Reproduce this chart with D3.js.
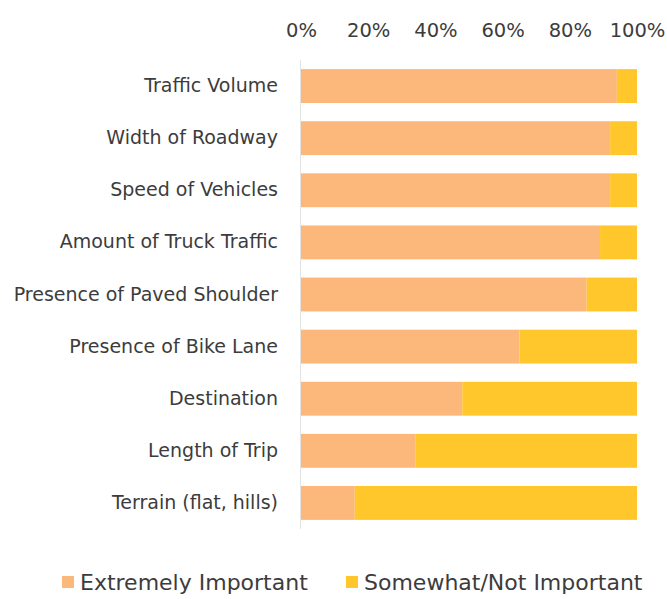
<!DOCTYPE html>
<html>
<head>
<meta charset="utf-8">
<script src="https://cdn.jsdelivr.net/npm/d3@7"></script>
<style>
  html, body { margin: 0; padding: 0; background: #ffffff; }
  svg { display: block; }
  text { font-family: "DejaVu Sans", sans-serif; fill: #3c3c3c; }
</style>
</head>
<body>
<script>
// Factors rated by importance (share of respondents)
const categories = [
  "Traffic Volume",
  "Width of Roadway",
  "Speed of Vehicles",
  "Amount of Truck Traffic",
  "Presence of Paved Shoulder",
  "Presence of Bike Lane",
  "Destination",
  "Length of Trip",
  "Terrain (flat, hills)"
];
const extremelyImportant = [0.94, 0.92, 0.92, 0.89, 0.85, 0.65, 0.48, 0.34, 0.16];
const somewhatNotImportant = extremelyImportant.map(v => 1 - v);
const seriesNames = ["Extremely Important", "Somewhat/Not Important"];
const seriesColors = ["#FCB77B", "#FFC72C"];
const tickValues = [0, 0.2, 0.4, 0.6, 0.8, 1.0];

const W = 667, H = 599;
const svg = d3.select("body").append("svg").attr("width", W).attr("height", H);

const x = d3.scaleLinear().domain([0, 1]).range([301, 637]);
const y = d3.scaleBand().domain(categories).range([60, 529])
  .paddingInner(0.35).paddingOuter(0.175);

const rows = categories.map((c, i) => ({
  category: c,
  [seriesNames[0]]: extremelyImportant[i],
  [seriesNames[1]]: somewhatNotImportant[i]
}));
const stacked = d3.stack().keys(seriesNames)(rows);

// Bars
svg.append("g").selectAll("g")
  .data(stacked).join("g")
  .attr("fill", (d, i) => seriesColors[i])
  .selectAll("rect")
  .data(d => d).join("rect")
  .attr("x", d => x(d[0]))
  .attr("y", d => y(d.data.category))
  .attr("width", d => x(d[1]) - x(d[0]))
  .attr("height", y.bandwidth());

// Category axis line
svg.append("line")
  .attr("x1", 300.5).attr("x2", 300.5)
  .attr("y1", 60).attr("y2", 529)
  .attr("stroke", "#e2e2e2").attr("stroke-width", 1);

// Top percentage axis
const xAxis = svg.append("g")
  .attr("transform", "translate(0,37)")
  .call(d3.axisTop(x).tickValues(tickValues).tickFormat(d3.format(".0%")).tickSize(0).tickPadding(0));
xAxis.select(".domain").remove();
xAxis.selectAll("text")
  .style("font-size", "19.5px")
  .style("font-family", "DejaVu Sans, sans-serif")
  .attr("fill", "#3c3c3c");

// Category labels
const yAxis = svg.append("g")
  .attr("transform", "translate(278,0)")
  .call(d3.axisLeft(y).tickSize(0).tickPadding(0));
yAxis.select(".domain").remove();
yAxis.selectAll("text")
  .style("font-size", "19px")
  .style("font-family", "DejaVu Sans, sans-serif")
  .attr("fill", "#3c3c3c");

// Legend
const legendItems = [
  { name: seriesNames[0], color: seriesColors[0], x: 62 },
  { name: seriesNames[1], color: seriesColors[1], x: 346 }
];
const legend = svg.append("g").attr("transform", "translate(0,582)");
const li = legend.selectAll("g").data(legendItems).join("g")
  .attr("transform", d => `translate(${d.x},0)`);
li.append("rect")
  .attr("x", 0).attr("y", -6).attr("width", 12).attr("height", 12)
  .attr("fill", d => d.color);
li.append("text")
  .attr("x", 18).attr("y", 0).attr("dy", "0.35em")
  .style("font-size", "22px")
  .text(d => d.name);
</script>
</body>
</html>
